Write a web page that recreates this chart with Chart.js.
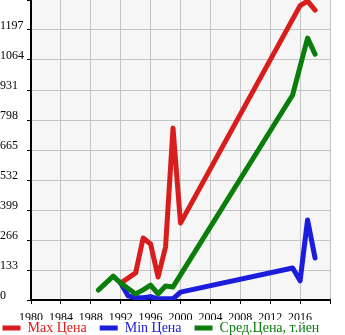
<!DOCTYPE html>
<html>
<head>
<meta charset="utf-8">
<script src="https://cdn.jsdelivr.net/npm/chart.js@4"></script>
<style>
  html, body { margin: 0; padding: 0; background: #fff; }
  #wrap { width: 345px; height: 335px; }
</style>
</head>
<body>
<div id="wrap"><canvas id="ceny"></canvas></div>
<script>
const maxYears = [1992, 1994, 1995, 1996, 1997, 1998, 1999, 2000, 2016, 2017, 2018];
const maxCena = [75, 120, 275, 248, 102, 235, 762, 341, 1305, 1325, 1285];

const minYears = [1992, 1993, 1994, 1995, 1996, 1997, 1998, 1999, 2000, 2015, 2016, 2017, 2018];
const minCena = [75, 18, 10, 10, 15, 5, 5, 5, 35, 142, 85, 355, 186];

const srYears = [1989, 1991, 1992, 1994, 1995, 1996, 1997, 1998, 1999, 2015, 2017, 2018];
const srCena = [44, 106, 75, 27, 45, 66, 27, 62, 58, 909, 1161, 1090];

const yTicks = [0, 133, 266, 399, 532, 665, 798, 931, 1064, 1197];
const yTop = 1330;

const toPoints = (xs, ys) => xs.map((x, i) => ({ x: x, y: ys[i] }));

// серый фон области графика
const fonPlot = {
  id: 'fonPlot',
  beforeDraw(chart) {
    const a = chart.chartArea;
    const ctx = chart.ctx;
    ctx.save();
    ctx.fillStyle = '#f6f6f6';
    ctx.fillRect(a.left, a.top, a.right - a.left, a.bottom - a.top);
    ctx.restore();
  }
};

// легенда в одну строку от левого края, под осью X
const legendaPoz = {
  id: 'legendaPoz',
  afterLayout(chart) {
    const lg = chart.legend;
    const p = lg.options.labels.padding;
    lg.left = 2.5 - p;
    lg.right = lg.left + 420;
    lg.top = 321 - p;
  }
};

const shrift = { family: "'Liberation Serif', 'Times New Roman', serif", size: 12 };

function linia(label, color, pts, order) {
  return {
    label: label,
    data: pts,
    borderColor: color,
    backgroundColor: color,
    borderWidth: 5,
    borderCapStyle: 'round',
    borderJoinStyle: 'round',
    pointRadius: 0,
    tension: 0,
    order: order
  };
}

new Chart(document.getElementById('ceny'), {
  type: 'line',
  data: {
    datasets: [
      linia('Max Цена', '#d91c1c', toPoints(maxYears, maxCena), 1),
      linia('Min Цена', '#1c1cdc', toPoints(minYears, minCena), 2),
      linia('Сред.Цена, т.йен', '#0a7d0a', toPoints(srYears, srCena), 0)
    ]
  },
  options: {
    animation: false,
    responsive: true,
    maintainAspectRatio: false,
    layout: { padding: { right: 0, bottom: -22 } },
    plugins: {
      tooltip: { enabled: false },
      legend: {
        position: 'bottom',
        align: 'start',
        labels: {
          sort: (a, b) => a.datasetIndex - b.datasetIndex,
          usePointStyle: true,
          pointStyle: 'line',
          pointStyleWidth: 18,
          padding: 13,
          font: { family: shrift.family, size: 14 },
          generateLabels(chart) {
            const items = Chart.defaults.plugins.legend.labels.generateLabels(chart);
            items.forEach(it => { it.fontColor = chart.data.datasets[it.datasetIndex].borderColor; });
            return items;
          }
        }
      }
    },
    scales: {
      x: {
        type: 'linear',
        min: 1980,
        max: 2020,
        ticks: {
          stepSize: 4,
          color: '#000',
          font: shrift,
          maxRotation: 0,
          padding: 7,
          callback: v => (v === 2020 ? '' : String(v))
        },
        grid: { color: '#c4c4c4', tickColor: '#000', tickLength: 4 },
        border: { color: '#000', width: 2 },
        afterFit: s => { s.height = 20; s.paddingRight = 15; s.paddingLeft = 0; }
      },
      y: {
        min: 0,
        max: yTop,
        afterBuildTicks: s => { s.ticks = yTicks.concat([yTop]).map(v => ({ value: v })); },
        ticks: {
          color: '#000',
          font: shrift,
          crossAlign: 'far',
          labelOffset: -4,
          callback: v => (yTicks.includes(v) ? String(v) : '')
        },
        grid: {
          color: c => (c.tick && c.tick.value === yTop ? 'rgba(0,0,0,0)' : '#c4c4c4'),
          tickColor: '#000',
          tickLength: 4
        },
        border: { color: '#000', width: 2 },
        afterFit: s => { s.width = 31; s.paddingTop = 0; s.paddingBottom = 0; }
      }
    }
  },
  plugins: [fonPlot, legendaPoz]
});
</script>
</body>
</html>
